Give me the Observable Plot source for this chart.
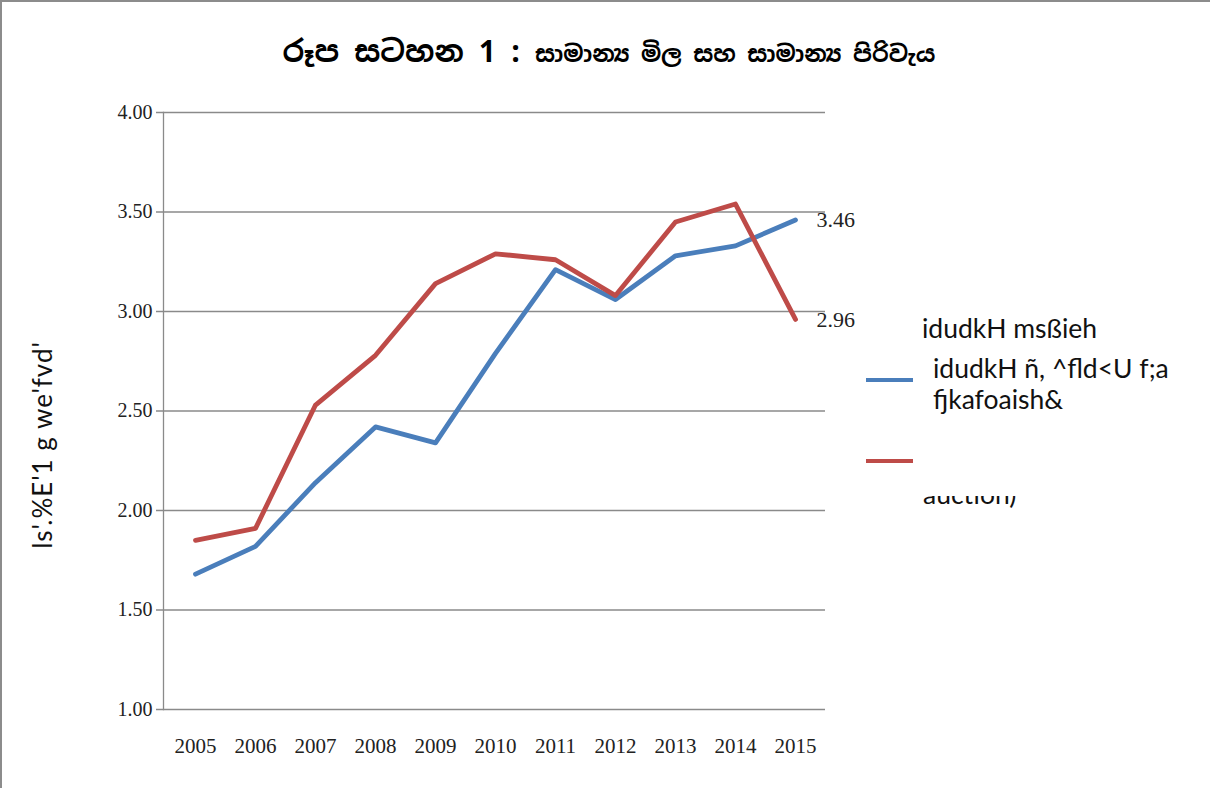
<!DOCTYPE html>
<html><head><meta charset="utf-8">
<script src="https://cdn.jsdelivr.net/npm/d3@7"></script>
<script src="https://cdn.jsdelivr.net/npm/@observablehq/plot@0.6"></script>
<style>
  html,body{margin:0;padding:0;background:#fff;}
  #chart svg{display:block;}
</style>
</head><body><div id="chart"></div>
<script>
// ---- data ----
const years = [2005, 2006, 2007, 2008, 2009, 2010, 2011, 2012, 2013, 2014, 2015];
const blueValues = [1.68, 1.82, 2.14, 2.42, 2.34, 2.79, 3.21, 3.06, 3.28, 3.33, 3.46];
const redValues  = [1.85, 1.91, 2.53, 2.78, 3.14, 3.29, 3.26, 3.08, 3.45, 3.54, 2.96];
const yTicks = [1.0, 1.5, 2.0, 2.5, 3.0, 3.5, 4.0];
const seriesNames = ["idudkH ñ, ^fld<U f;a fjkafoaish&", "idudkH msßjeh"];
const seriesColors = ["#4a7ebb", "#be4b48"];
const titleMain = "රූප සටහන 1 : ";
const titleRest = "සාමාන්‍ය මිල සහ සාමාන්‍ය පිරිවැය";
const yLabel = "ls'.%E'1 g we'fvd'";
const legendLines = ["idudkH msßjeh", "idudkH ñ, ^fld<U f;a", "fjkafoaish&", "auction)"];

const data = [];
years.forEach((yr, i) => {
  data.push({year: yr, value: blueValues[i], series: seriesNames[0]});
  data.push({year: yr, value: redValues[i], series: seriesNames[1]});
});
const lastPoints = data.filter(d => d.year === years[years.length - 1]);

const serif = "'Liberation Serif', 'DejaVu Serif', serif";
const sans = "Lato, 'Open Sans', 'Liberation Sans', sans-serif";

const chart = Plot.plot({
  width: 1210,
  height: 788,
  marginLeft: 163,
  marginRight: 383,
  marginTop: 112,
  marginBottom: 79,
  style: {background: "white", overflow: "visible"},
  x: {type: "point", domain: years, padding: 0.5, axis: null},
  y: {domain: [1, 4], axis: null},
  color: {domain: seriesNames, range: seriesColors},
  marks: [
    Plot.ruleY(yTicks, {stroke: "#8a8a8a", strokeWidth: 1.3, strokeOpacity: 1, insetLeft: -7, insetRight: 2}),
    Plot.frame({anchor: "left", stroke: "#8a8a8a", strokeWidth: 1.3}),
    Plot.axisY(yTicks, {tickSize: 0, tickPadding: 11, tickFormat: d => d.toFixed(2), fontSize: 20, fontFamily: serif, fill: "#222", label: null}),
    Plot.axisX(years, {tickSize: 0, tickPadding: 29, tickFormat: d => String(d), fontSize: 21, fontFamily: serif, fill: "#222", label: null, letterSpacing: "1.5px"}),
    Plot.line(data, {x: "year", y: "value", z: "series", stroke: "series", strokeWidth: 4.8, strokeLinejoin: "round", strokeLinecap: "round"}),
    Plot.text(lastPoints, {x: "year", y: "value", text: d => d.value.toFixed(2), dx: 21, textAnchor: "start", fontSize: 22, fontFamily: serif, fill: "#222", letterSpacing: "1.5px"})
  ]
});
document.getElementById("chart").appendChild(chart);

// ---- decorations (title, y label, legend, outer border) ----
const svg = d3.select(chart);

// outer border (top and left visible)
svg.append("path").attr("d", "M1,788V1H1210").attr("fill", "none").attr("stroke", "#8c8c8c").attr("stroke-width", 2);

// title
const t = svg.append("text").attr("x", 609).attr("y", 62).attr("text-anchor", "middle")
  .attr("font-family", "'Noto Sans Sinhala','Iskoola Pota','Noto Sans',sans-serif").attr("font-weight", "bold").attr("fill", "#000");
t.append("tspan").attr("font-size", 30).text(titleMain);
t.append("tspan").attr("font-size", 23).text(titleRest);

// y axis title
svg.append("text").attr("transform", "translate(52,445) rotate(-90)").attr("text-anchor", "middle")
  .attr("font-family", sans).attr("font-size", 26).attr("letter-spacing", "1px").attr("fill", "#111").text(yLabel);

// legend
const defs = svg.append("defs");
defs.append("clipPath").attr("id", "clipTop").append("rect").attr("x", 900).attr("y", 300).attr("width", 310).attr("height", 38);
defs.append("clipPath").attr("id", "clipBottom").append("rect").attr("x", 900).attr("y", 496).attr("width", 310).attr("height", 40);

const lg = svg.append("g").attr("font-family", sans).attr("font-size", 26.5).attr("fill", "#111").attr("text-anchor", "start");
lg.append("line").attr("x1", 866).attr("x2", 913).attr("y1", 380).attr("y2", 380).attr("stroke", seriesColors[0]).attr("stroke-width", 4);
lg.append("line").attr("x1", 866).attr("x2", 913).attr("y1", 461).attr("y2", 461).attr("stroke", seriesColors[1]).attr("stroke-width", 4);
lg.append("text").attr("x", 922).attr("y", 338).attr("clip-path", "url(#clipTop)").text(legendLines[0]);
lg.append("text").attr("x", 933).attr("y", 378).text(legendLines[1]);
lg.append("text").attr("x", 933).attr("y", 409).text(legendLines[2]);
lg.append("text").attr("x", 923).attr("y", 504).attr("clip-path", "url(#clipBottom)").text(legendLines[3]);
</script>
</body></html>
